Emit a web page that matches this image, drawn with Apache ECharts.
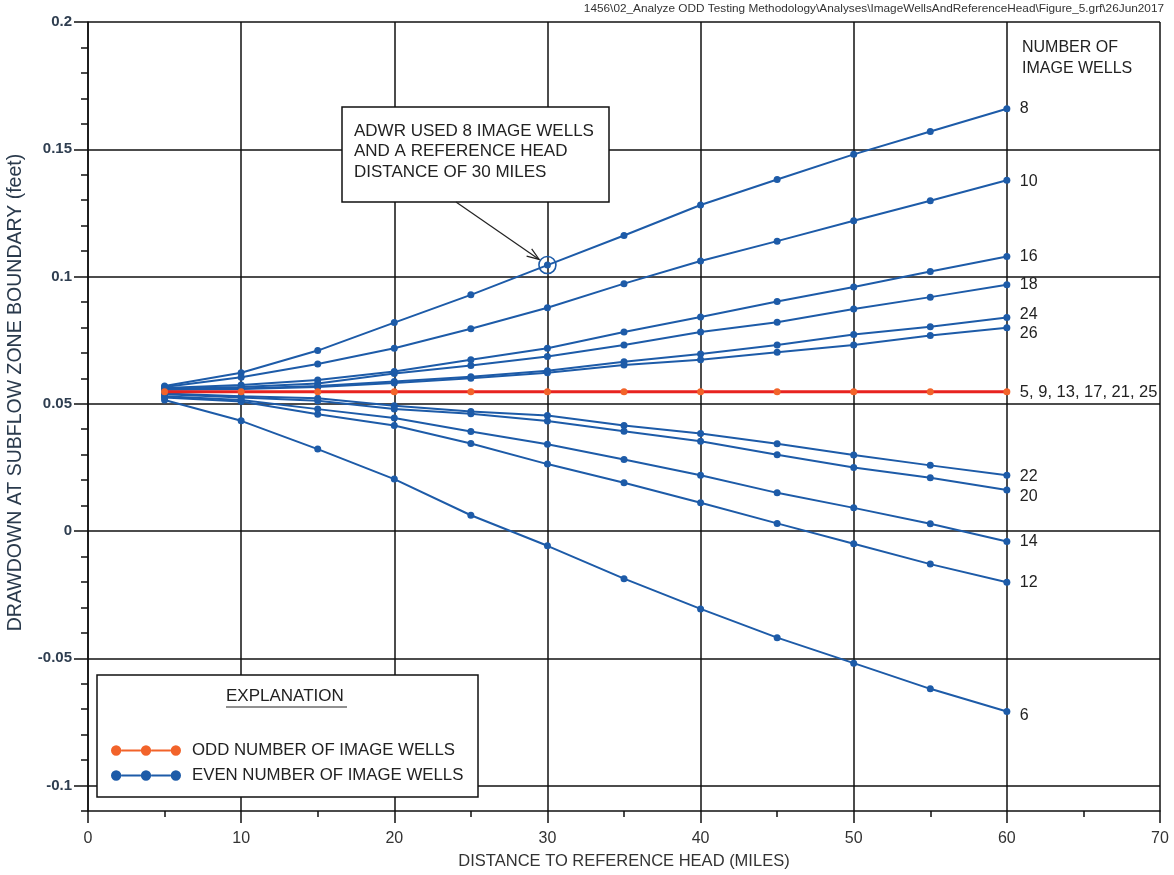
<!DOCTYPE html>
<html><head><meta charset="utf-8">
<script src="https://cdn.jsdelivr.net/npm/echarts@6/dist/echarts.min.js"></script>
<style>html,body{margin:0;padding:0;background:#fff}#c{width:1174px;height:875px}</style>
</head><body><div id="c"></div>
<script>
const distances = [5,10,15,20,25,30,35,40,45,50,55,60];
const xTicks = [0,10,20,30,40,50,60,70];
const yTicks = [-0.1,-0.05,0,0.05,0.1,0.15,0.2];

const w8  = [0.0570,0.0622,0.0709,0.0819,0.0928,0.1045,0.1161,0.1281,0.1381,0.1480,0.1570,0.1659];
const w10 = [0.0566,0.0604,0.0656,0.0718,0.0795,0.0877,0.0972,0.1061,0.1139,0.1219,0.1298,0.1378];
const w16 = [0.0562,0.0574,0.0593,0.0627,0.0673,0.0718,0.0782,0.0841,0.0902,0.0959,0.1020,0.1079];
const w18 = [0.0560,0.0566,0.0580,0.0619,0.0650,0.0686,0.0731,0.0782,0.0820,0.0872,0.0919,0.0968];
const w24 = [0.0556,0.0560,0.0570,0.0588,0.0606,0.0630,0.0665,0.0696,0.0731,0.0772,0.0803,0.0839];
const w26 = [0.0555,0.0558,0.0566,0.0582,0.0600,0.0622,0.0652,0.0673,0.0702,0.0731,0.0768,0.0799];
const w22 = [0.0540,0.0530,0.0522,0.0492,0.0470,0.0454,0.0415,0.0383,0.0343,0.0299,0.0258,0.0219];
const w20 = [0.0537,0.0525,0.0512,0.0479,0.0461,0.0432,0.0392,0.0353,0.0300,0.0250,0.0209,0.0161];
const w14 = [0.0530,0.0515,0.0479,0.0444,0.0391,0.0341,0.0281,0.0219,0.0150,0.0091,0.0029,-0.0041];
const w12 = [0.0525,0.0509,0.0459,0.0415,0.0344,0.0263,0.0190,0.0111,0.0030,-0.0050,-0.0130,-0.0201];
const w6  = [0.0515,0.0433,0.0322,0.0204,0.0062,-0.0058,-0.0187,-0.0306,-0.0419,-0.0519,-0.0620,-0.0709];
const wOdd = [0.0547,0.0547,0.0547,0.0547,0.0547,0.0547,0.0547,0.0547,0.0547,0.0547,0.0547,0.0547];

const evenSeries = [
  {label:'8',  data:w8,  dy:0},
  {label:'10', data:w10, dy:1},
  {label:'16', data:w16, dy:0},
  {label:'18', data:w18, dy:0},
  {label:'24', data:w24, dy:-3},
  {label:'26', data:w26, dy:6},
  {label:'22', data:w22, dy:1},
  {label:'20', data:w20, dy:7},
  {label:'14', data:w14, dy:0},
  {label:'12', data:w12, dy:0},
  {label:'6',  data:w6,  dy:4}
];
const oddLabel = '5, 9, 13, 17, 21, 25';
const ODD = 'ODD NUMBER OF IMAGE WELLS';
const EVEN = 'EVEN NUMBER OF IMAGE WELLS';

const BLUE = '#1d5ba8', RED = '#e8231f', ORANGE = '#f2632a', INK = '#111';
const FONT = 'Liberation Sans, Arial, sans-serif';
const NARROW = 'Liberation Sans Narrow, Liberation Sans, Arial, sans-serif';

function pairs(arr){ return distances.map((d,i)=>[d,arr[i]]); }

const series = evenSeries.map((s,i)=>({
  type:'line', name:EVEN, data:pairs(s.data), symbol:'circle', symbolSize:7,
  lineStyle:{color:BLUE,width:2}, itemStyle:{color:BLUE}, z:3, animation:false,
  endLabel:{show:true, formatter:()=>s.label, distance:13, offset:[0,s.dy], color:'#222', fontSize:16, fontFamily:FONT},
  markPoint: i===0 ? {symbol:'circle', symbolSize:17, label:{show:false}, silent:true,
    itemStyle:{color:'rgba(0,0,0,0)', borderColor:BLUE, borderWidth:1.6},
    data:[{coord:[distances[5], s.data[5]]}]} : undefined
}));
series.push({
  type:'line', name:ODD, data:pairs(wOdd), symbol:'circle', symbolSize:7,
  lineStyle:{color:RED,width:3}, itemStyle:{color:ORANGE}, z:5, animation:false,
  endLabel:{show:true, formatter:()=>oddLabel, distance:13, offset:[0,1], color:'#222', fontSize:16.5, fontFamily:FONT}
});

const iconPath = 'path://M1,6a5,5 0 1,0 10,0a5,5 0 1,0 -10,0Z M30,6a5,5 0 1,0 10,0a5,5 0 1,0 -10,0Z M59,6a5,5 0 1,0 10,0a5,5 0 1,0 -10,0Z M11,5L30,5L30,7L11,7Z M40,5L59,5L59,7L40,7Z';

const chart = echarts.init(document.getElementById('c'), null, {renderer:'canvas'});
chart.setOption({
  animation:false,
  backgroundColor:'#fff',
  grid:{left:88, right:14, top:22, bottom:64, containLabel:false, outerBoundsMode:'none'},
  xAxis:{
    type:'value', min:0, max:70, interval:10,
    name:'DISTANCE TO REFERENCE HEAD (MILES)', nameLocation:'middle', nameGap:42,
    nameTextStyle:{fontFamily:NARROW, fontSize:16.5, color:'#333'},
    axisLine:{show:true, onZero:false, lineStyle:{color:INK,width:1.5}},
    axisTick:{show:true, length:12, lineStyle:{color:INK,width:1.5}},
    minorTick:{show:true, splitNumber:2, length:6, lineStyle:{color:INK,width:1.5}},
    axisLabel:{margin:20, fontFamily:NARROW, fontSize:16, color:'#333'},
    splitLine:{show:true, lineStyle:{color:INK,width:1.5}}
  },
  yAxis:[
    {type:'value', min:-0.11, max:0.2, interval:0.01,
     axisLine:{show:true, onZero:false, lineStyle:{color:INK,width:1.5}},
     axisTick:{show:true, length:7, lineStyle:{color:INK,width:1.5}},
     axisLabel:{show:false}, splitLine:{show:false}},
    {type:'value', min:-0.11, max:0.2, position:'left',
     name:'DRAWDOWN AT SUBFLOW ZONE BOUNDARY (feet)', nameLocation:'middle', nameGap:62,
     nameTextStyle:{fontFamily:NARROW, fontSize:19.5, color:'#2a3a4c', padding:[0,0,0,48]},
     axisLine:{show:false},
     axisTick:{show:true, customValues:yTicks, length:14, lineStyle:{color:INK,width:1.5}},
     axisLabel:{show:true, customValues:yTicks, margin:16, fontFamily:FONT, fontSize:15, fontWeight:'bold', color:'#2f3e50',
       formatter:v=>String(v)},
     splitLine:{show:true, lineStyle:{color:INK,width:1.5}}}
  ],
  legend:{
    data:[ODD, EVEN], orient:'vertical', left:106, top:737, icon:iconPath,
    itemWidth:70, itemHeight:12, itemGap:8, selectedMode:false, z:120,
    textStyle:{fontFamily:FONT, fontSize:16.8, color:'#222', padding:[0,0,0,6]}
  },
  series: series
});

const p = chart.convertToPixel({gridIndex:0}, [distances[5], w8[5]]);
const a0 = [456, 202];
const ang = Math.atan2(p[1]-a0[1], p[0]-a0[0]);
const tip = [p[0]-10*Math.cos(ang), p[1]-10*Math.sin(ang)];
const hl = 13, ha = 0.35;
const h1 = [tip[0]-hl*Math.cos(ang-ha), tip[1]-hl*Math.sin(ang-ha)];
const h2 = [tip[0]-hl*Math.cos(ang+ha), tip[1]-hl*Math.sin(ang+ha)];

chart.setOption({graphic:[
  {type:'text', right:10, top:3, z:100, style:{text:'1456\\02_Analyze ODD Testing Methodology\\Analyses\\ImageWellsAndReferenceHead\\Figure_5.grf\\26Jun2017', fontFamily:NARROW, fontSize:11.8, fill:'#333'}},
  {type:'text', left:1022, top:37, z:100, style:{text:'NUMBER OF\nIMAGE WELLS', fontFamily:FONT, fontSize:16, lineHeight:21, fill:'#222'}},
  {type:'rect', z:100, shape:{x:342, y:107, width:267, height:95}, style:{fill:'#fff', stroke:INK, lineWidth:1.5}},
  {type:'text', z:101, left:354, top:121, style:{text:'ADWR USED 8 IMAGE WELLS\nAND A REFERENCE HEAD\nDISTANCE OF 30 MILES', fontFamily:FONT, fontSize:17, lineHeight:20.5, fill:'#222'}},
  {type:'polyline', z:101, shape:{points:[a0, tip]}, style:{stroke:'#222', lineWidth:1.2, fill:null}},
  {type:'polyline', z:101, shape:{points:[h1, tip, h2]}, style:{stroke:'#222', lineWidth:1.2, fill:null}},
  {type:'rect', z:100, shape:{x:97, y:675, width:381, height:122}, style:{fill:'#fff', stroke:INK, lineWidth:1.5}},
  {type:'text', z:101, left:226, top:688, style:{text:'EXPLANATION', fontFamily:FONT, fontSize:17, fill:'#222'}},
  {type:'line', z:101, shape:{x1:226, y1:707, x2:347, y2:707}, style:{stroke:'#222', lineWidth:1}}
]});
</script></body></html>
